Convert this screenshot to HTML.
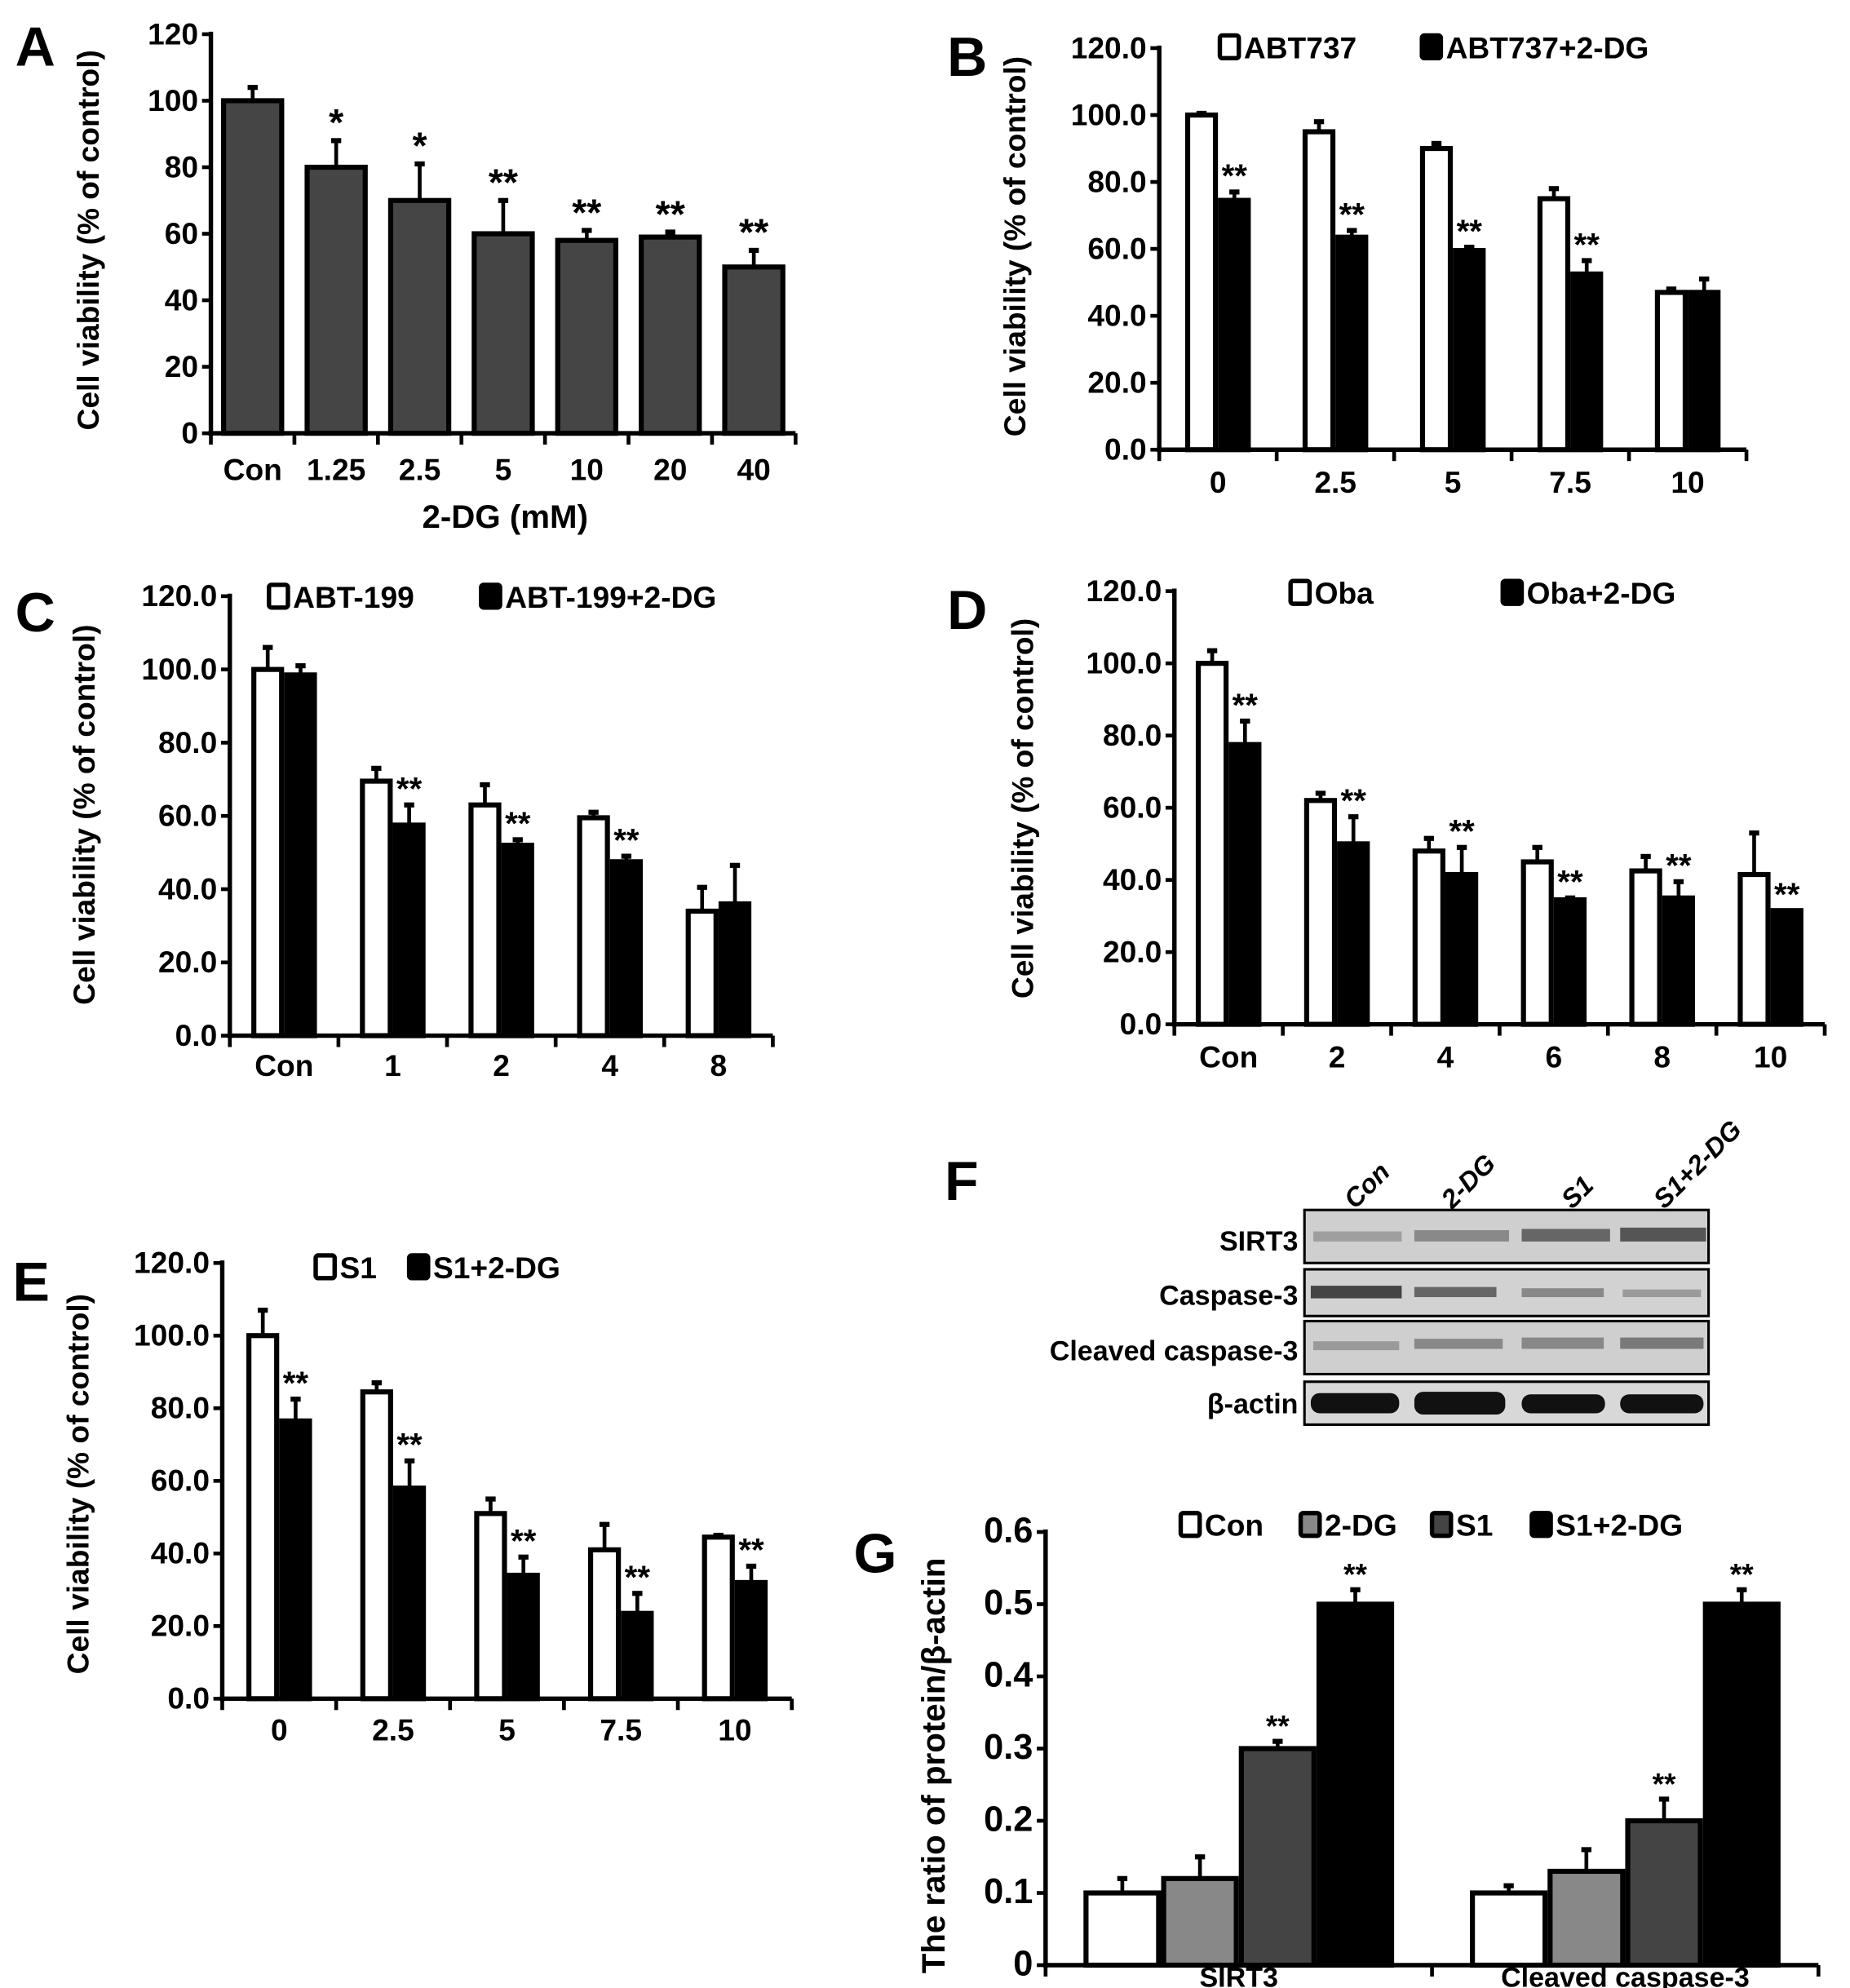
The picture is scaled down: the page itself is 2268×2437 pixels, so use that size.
<!DOCTYPE html>
<html><head><meta charset="utf-8">
<style>
html,body{margin:0;padding:0;background:#fff;}
svg{display:block;}
text{font-family:"Liberation Sans Narrow","Liberation Sans",sans-serif;font-weight:bold;fill:#000;}
.lab{font-family:"Liberation Sans",sans-serif;font-weight:bold;}
</style></head>
<body>
<svg id="fig" width="2268" height="2437" viewBox="0 0 1465 1574" xmlns="http://www.w3.org/2000/svg">
<g id="blot">
  <text class="lab" x="748" y="950" font-size="44">F</text>
  <g font-size="21" font-style="italic" class="lab">
    <text transform="translate(1073,958) rotate(-45)">Con</text>
    <text transform="translate(1150,958) rotate(-45)">2-DG</text>
    <text transform="translate(1245,958) rotate(-45)">S1</text>
    <text transform="translate(1318,958) rotate(-45)">S1+2-DG</text>
  </g>
  <g font-size="22" text-anchor="end">
    <text x="1028" y="990">SIRT3</text>
    <text x="1028" y="1033">Caspase-3</text>
    <text x="1028" y="1077">Cleaved caspase-3</text>
    <text x="1028" y="1119">β-actin</text>
  </g>
  <g>
    <rect x="1033" y="958" width="320" height="42" fill="#cfcfcf" stroke="#000" stroke-width="2"/>
    <rect x="1040" y="975" width="70" height="8" fill="#8a8a8a" opacity="0.7"/>
    <rect x="1120" y="974" width="75" height="9" fill="#777" opacity="0.8"/>
    <rect x="1205" y="973" width="70" height="10" fill="#666"/>
    <rect x="1283" y="972" width="68" height="11" fill="#555"/>
  </g>
  <g>
    <rect x="1033" y="1005" width="320" height="37" fill="#d2d2d2" stroke="#000" stroke-width="2"/>
    <rect x="1038" y="1018" width="72" height="10" fill="#444"/>
    <rect x="1120" y="1019" width="65" height="8" fill="#666"/>
    <rect x="1205" y="1020" width="65" height="7" fill="#888"/>
    <rect x="1285" y="1021" width="62" height="6" fill="#9a9a9a"/>
  </g>
  <g>
    <rect x="1033" y="1046" width="320" height="42" fill="#cfcfcf" stroke="#000" stroke-width="2"/>
    <rect x="1040" y="1062" width="68" height="7" fill="#9a9a9a"/>
    <rect x="1120" y="1060" width="70" height="8" fill="#888"/>
    <rect x="1205" y="1059" width="65" height="9" fill="#888"/>
    <rect x="1283" y="1059" width="66" height="9" fill="#7a7a7a"/>
  </g>
  <g>
    <rect x="1033" y="1094" width="320" height="34" fill="#d8d8d8" stroke="#000" stroke-width="2"/>
    <rect x="1038" y="1103" width="70" height="16" rx="7" fill="#111"/>
    <rect x="1120" y="1102" width="72" height="18" rx="7" fill="#111"/>
    <rect x="1205" y="1104" width="66" height="15" rx="7" fill="#111"/>
    <rect x="1283" y="1104" width="66" height="15" rx="7" fill="#111"/>
  </g>
</g>
</svg>
<script>
// ---- Panel A ----
const aCats = ["Con","1.25","2.5","5","10","20","40"];
const aVals = [100,80,70,60,58,59,50];
const aErr  = [104,88,81,70,61,60.5,55];
const aStars = ["","*","*","**","**","**","**"];
const aTicks = [0,20,40,60,80,100,120];
// ---- Panel B ----
const bCats = ["0","2.5","5","7.5","10"];
const bWhite = [100,95,90,75,47];
const bWhiteErr = [100.5,98,91.5,78,48];
const bBlack = [74.5,63.5,59.5,52.5,47];
const bBlackErr = [77,65.5,60.5,56.5,51];
const bStars = ["**","**","**","**",""];
const bTicks = ["0.0","20.0","40.0","60.0","80.0","100.0","120.0"];
// ---- Panel C ----
const cCats = ["Con","1","2","4","8"];
const cWhite = [100,69.5,63,59.5,34];
const cWhiteErr = [106,73,68.5,61,40.5];
const cBlack = [98.5,57.5,52,47.5,36];
const cBlackErr = [101,63,53.5,49,46.5];
const cStars = ["","**","**","**",""];
// ---- Panel D ----
const dCats = ["Con","2","4","6","8","10"];
const dWhite = [100,62,48,45,42.5,41.5];
const dWhiteErr = [103.5,64,51.5,49,46.5,53];
const dBlack = [77.5,50,41.5,34.5,35,31.5];
const dBlackErr = [84,57.5,49,35,39.5,31.5];
const dStars = ["**","**","**","**","**","**"];
// ---- Panel E ----
const eCats = ["0","2.5","5","7.5","10"];
const eWhite = [100,84.5,51,41,44.5];
const eWhiteErr = [107,87,55,48,45];
const eBlack = [76.5,58,34,23.5,32];
const eBlackErr = [82.5,65.5,39,29,36.5];
const eStars = ["**","**","**","**","**"];
// ---- Panel G ----
const gCats = ["SIRT3","Cleaved caspase-3"];
const gSeries = ["Con","2-DG","S1","S1+2-DG"];
const gCon = [0.1,0.1];
const gConErr = [0.12,0.11];
const gDG = [0.12,0.13];
const gDGErr = [0.15,0.16];
const gS1 = [0.3,0.2];
const gS1Err = [0.31,0.23];
const gComb = [0.5,0.5];
const gCombErr = [0.52,0.52];
const gStarsS1 = ["**","**"];
const gStarsComb = ["**","**"];
const gTicks = ["0","0.1","0.2","0.3","0.4","0.5","0.6"];

const NS="http://www.w3.org/2000/svg";
const svg=document.getElementById('fig');
function mk(tag,attrs,parent){const e=document.createElementNS(NS,tag);for(const k in attrs)e.setAttribute(k,attrs[k]);(parent||svg).appendChild(e);return e;}
function txt(s,attrs,parent){const e=mk('text',attrs,parent);e.textContent=s;return e;}

function panel(cfg){
  const g=mk('g',{});
  
  
  const y=v=>cfg.y0-(v-cfg.vmin)/(cfg.vmax-cfg.vmin)*(cfg.y0-cfg.yTop);
  const L=txt(cfg.id.toUpperCase(),{x:cfg.letter[0],y:cfg.letter[1],'font-size':44,class:'lab'},g);
  
  
  const yl=txt(cfg.ylabel,{transform:`translate(${cfg.ylx},${cfg.yly}) rotate(-90)`,'text-anchor':'middle','font-size':cfg.ylfs||24,class:'lab'},g);
  
  
  const ax=mk('line',{x1:cfg.x0,y1:cfg.yTop-2,x2:cfg.x0,y2:cfg.y0+2,stroke:'#000','stroke-width':3.5},g);
  
  
  const xx=mk('line',{x1:cfg.x0-2,y1:cfg.y0,x2:cfg.xEnd,y2:cfg.y0,stroke:'#000','stroke-width':3.5},g);
  
  
  cfg.ticks.forEach((t,i)=>{
    const v=cfg.vmin+i*(cfg.vmax-cfg.vmin)/(cfg.ticks.length-1);
    mk('line',{x1:cfg.x0-7,y1:y(v),x2:cfg.x0,y2:y(v),stroke:'#000','stroke-width':3},g);
    const tl=txt(t,{x:cfg.x0-10,y:y(v)+8,'text-anchor':'end','font-size':cfg.tickFs||24},g);
    
    
  });
  const n=cfg.cats.length, step=(cfg.xEnd-cfg.x0)/n;
  const ticksAt = cfg.midTicksOnly ? [0,n/2,n] : [...Array(n+1).keys()];
  ticksAt.forEach(i=>mk('line',{x1:cfg.x0+i*step,y1:cfg.y0,x2:cfg.x0+i*step,y2:cfg.y0+9,stroke:'#000','stroke-width':3},g));
  cfg.cats.forEach((c,i)=>{
    const cx=cfg.x0+(i+0.5)*step;
    const cl=txt(c,{x:cx,y:cfg.y0+cfg.catDy,'text-anchor':'middle','font-size':cfg.catFs||24},g);
    
    
    const ns=cfg.series.length, bw=cfg.bw, gx=cx-ns*bw/2;
    cfg.series.forEach((s,j)=>{
      const bx=gx+j*bw, v=s.vals[i], e=s.err[i];
      const bar=mk('rect',{x:bx+2,y:y(v),width:bw-4,height:cfg.y0-y(v),fill:s.fill,stroke:'#000','stroke-width':4},g);
      
      
      if(e>v+0.0001){
        const bxC=bx+bw/2;
        const eb=mk('line',{x1:bxC,y1:y(v),x2:bxC,y2:y(e),stroke:'#000','stroke-width':3},g);
        
        
        mk('line',{x1:bxC-4,y1:y(e),x2:bxC+4,y2:y(e),stroke:'#000','stroke-width':4},g);
      }
      if(s.stars&&s.stars[i]){
        const st=txt(s.stars[i],{x:bx+bw/2,y:y(Math.max(e,v))-4,'text-anchor':'middle','font-size':cfg.starFs||26,class:'lab'},g);
        
        
      }
    });
  });
  if(cfg.xlabel){
    const xl=txt(cfg.xlabel,{x:cfg.xlx,y:cfg.xly,'text-anchor':'middle','font-size':26},g);
    
    
  }
  (cfg.legend||[]).forEach(l=>{
    const lg=mk('g',{},g);
    
    
    mk('rect',{x:l.x,y:l.y-9,width:15,height:18,fill:l.fill,stroke:'#000','stroke-width':3.5,rx:2},lg);
    txt(l.t,{x:l.x+19,y:l.y+9,'font-size':24},lg);
  });
}
const YL="Cell viability (% of control)";
panel({id:'a',letter:[12,52],ylabel:YL,ylx:78,yly:190,x0:167,xEnd:630,y0:343,yTop:27,vmin:0,vmax:120,
  ticks:aTicks.map(String),cats:aCats,bw:50,catDy:37,xlabel:"2-DG (mM)",xlx:400,xly:418,starFs:30,
  series:[{name:'2dg',fill:'#454545',vals:aVals,err:aErr,stars:aStars}]});
panel({id:'b',letter:[750,60],ylabel:YL,ylx:812,yly:195,x0:918,xEnd:1383,y0:356,yTop:38,vmin:0,vmax:120,
  ticks:bTicks,cats:bCats,bw:26,catDy:34,
  series:[{name:'abt737',fill:'#fff',vals:bWhite,err:bWhiteErr},{name:'abt737-2dg',fill:'#000',vals:bBlack,err:bBlackErr,stars:bStars}],
  legend:[{x:966,y:37,fill:'#fff',t:'ABT737'},{x:1126,y:37,fill:'#000',t:'ABT737+2-DG'}]});
panel({id:'c',letter:[12,500],ylabel:YL,ylx:75,yly:645,x0:182,xEnd:612,y0:820,yTop:472,vmin:0,vmax:120,
  ticks:bTicks,cats:cCats,bw:26,catDy:32,
  series:[{name:'abt199',fill:'#fff',vals:cWhite,err:cWhiteErr},{name:'abt199-2dg',fill:'#000',vals:cBlack,err:cBlackErr,stars:cStars}],
  legend:[{x:213,y:472,fill:'#fff',t:'ABT-199'},{x:381,y:472,fill:'#000',t:'ABT-199+2-DG'}]});
panel({id:'d',letter:[750,498],ylabel:YL,ylx:818,yly:640,x0:930,xEnd:1445,y0:811,yTop:468,vmin:0,vmax:120,
  ticks:bTicks,cats:dCats,bw:26,catDy:34,
  series:[{name:'oba',fill:'#fff',vals:dWhite,err:dWhiteErr},{name:'oba-2dg',fill:'#000',vals:dBlack,err:dBlackErr,stars:dStars}],
  legend:[{x:1022,y:469,fill:'#fff',t:'Oba'},{x:1190,y:469,fill:'#000',t:'Oba+2-DG'}]});
panel({id:'e',letter:[10,1030],ylabel:YL,ylx:70,yly:1175,x0:176,xEnd:627,y0:1345,yTop:1000,vmin:0,vmax:120,
  ticks:bTicks,cats:eCats,bw:26,catDy:33,
  series:[{name:'s1',fill:'#fff',vals:eWhite,err:eWhiteErr},{name:'s1-2dg',fill:'#000',vals:eBlack,err:eBlackErr,stars:eStars}],
  legend:[{x:250,y:1003,fill:'#fff',t:'S1'},{x:324,y:1003,fill:'#000',t:'S1+2-DG'}]});
panel({id:'g',letter:[676,1245],ylabel:"The ratio of protein/β-actin",ylx:748,yly:1398,ylfs:26,x0:828,xEnd:1440,y0:1556,yTop:1213,vmin:0,vmax:0.6,
  ticks:gTicks,cats:gCats,bw:61.5,catDy:17,catFs:22,tickFs:28,midTicksOnly:true,starFs:24,
  series:[{name:'con',fill:'#fff',vals:gCon,err:gConErr},{name:'2dg',fill:'#888',vals:gDG,err:gDGErr},
          {name:'s1',fill:'#444',vals:gS1,err:gS1Err,stars:gStarsS1},{name:'s1-2dg',fill:'#000',vals:gComb,err:gCombErr,stars:gStarsComb}],
  legend:[{x:935,y:1207,fill:'#fff',t:'Con'},{x:1030,y:1207,fill:'#888',t:'2-DG'},{x:1134,y:1207,fill:'#444',t:'S1'},{x:1213,y:1207,fill:'#000',t:'S1+2-DG'}]});
</script>
</body></html>
